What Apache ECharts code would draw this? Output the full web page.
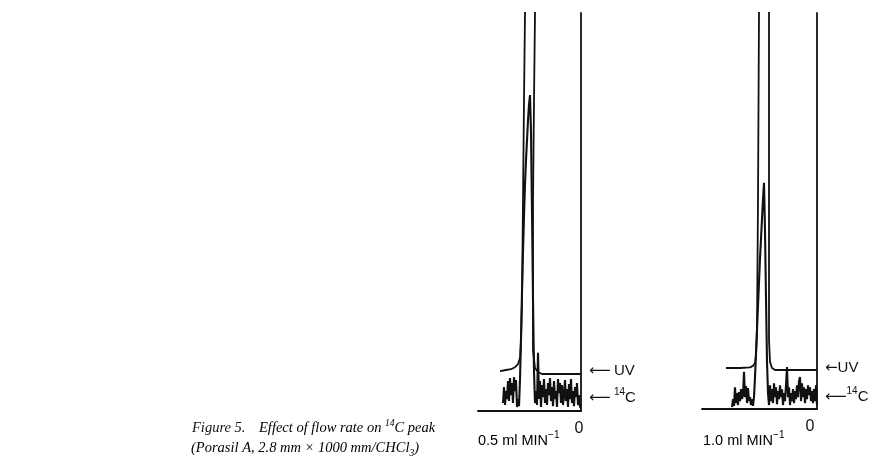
<!DOCTYPE html>
<html>
<head>
<meta charset="utf-8">
<script src="https://cdn.jsdelivr.net/npm/echarts@6/dist/echarts.min.js"></script>
<style>
  html, body { margin: 0; padding: 0; background: #fff; }
  #chart { width: 873px; height: 470px; }
</style>
</head>
<body>
<div id="chart"></div>
<script>
// Recorder traces, x = chart distance before the zero mark, y = % of full scale.
// UV detector trace at 0.5 ml/min: [distance, response]; the main peak runs off scale.
const uvSlow = [[81, 10.0], [75, 10.3], [70, 10.5], [66, 11.0], [63, 11.8], [61, 13.3], [60, 17.8],
  [59, 27.9], [58, 53], [57, 78], [56, 100], [51, 140], [46, 100], [47, 78], [48, 53], [48, 28],
  [48, 15.3], [46, 10.8], [43, 9.8], [39, 9.3], [0, 9.3]];
// 14C radioactivity trace at 0.5 ml/min, one reading per unit from distance 78 down to 0.
const c14SlowStart = 78;
const c14Slow = [2.0, 6.0, 1.5, 5.0, 3.0, 7.5, 2.5, 8.3, 4.0, 7.0, 2.0, 8.5, 5.0, 7.8, 1.0, 3.0, 1.2,
  8, 18, 30, 40, 49, 57, 63, 68, 73, 77, 79.4, 70, 50, 28, 10, 2.0,
  5, 1.5, 14.6, 3.0, 7.5, 1.0, 6.5, 3.5, 8.0, 2.0, 5.5, 1.5, 7.0, 4.0, 8.3, 2.5, 6.0, 1.2, 7.5, 3.0,
  5.0, 1.0, 8.0, 4.5, 7.0, 2.0, 6.5, 1.5, 4.0, 7.8, 2.5, 5.5, 1.0, 6.8, 3.0, 8.0, 2.0, 5.0, 1.2,
  6.0, 3.5, 7.0, 1.5, 4.0, 1.0, 0.8];

// UV detector trace at 1.0 ml/min.
const uvFast = [[91, 10.35], [77, 10.35], [67, 10.5], [64, 10.9], [62, 11.6], [61, 13.6], [60, 20],
  [59, 52.8], [58, 100], [53, 140], [48, 100], [48, 52.8], [48, 17.4], [47, 11.9], [45, 10.35],
  [42, 9.85], [0, 9.85]];
// 14C radioactivity trace at 1.0 ml/min, from distance 85 down to 0.
const c14FastStart = 85;
const c14Fast = [0.5, 2.5, 0.8, 5.5, 1.5, 4.0, 1.0, 4.3, 2.0, 5.0, 2.5, 3.5, 9.4, 3.0, 5.8, 1.5, 5.3,
  2.0, 3.0, 1.0, 2.5, 0.8,
  3, 8, 14, 20, 26, 32, 38, 43, 48, 53, 57.1, 45, 28, 12, 4,
  1.0, 6.0, 2.0, 5.0, 1.5, 6.5, 3.0, 5.5, 1.2, 4.5, 2.5, 6.0, 3.0, 5.0, 1.0, 4.0, 2.0, 6.0, 10.6,
  3.0, 5.5, 1.0, 4.0, 2.0, 5.0, 1.5, 4.5, 2.5, 6.0, 3.0, 7.0, 8.1, 2.0, 6.5, 3.0, 5.5, 1.5, 5.0,
  2.5, 6.0, 3.5, 5.5, 2.0, 4.5, 1.5, 5.0, 2.0, 6.0, 1.0];

// Panel captions and trace labels.
const panelTitles = ['0.5 ml MIN', '1.0 ml MIN'];
const zeroLabel = '0';
const uvName = 'UV';
const c14Name = 'C';

const INK = '#111';
const SANS = '"Liberation Sans", Arial, sans-serif';
const SERIF = '"Liberation Serif", "Times New Roman", serif';
const ARROW_FONT = '"DejaVu Sans", sans-serif';

function toPairs(start, values) {
  return values.map((v, i) => [start - i, v]);
}

const arrowRich = {
  a: { fontFamily: ARROW_FONT, fontSize: 15, color: INK, lineHeight: 22 },
  t: { fontFamily: SANS, fontSize: 15, color: INK, lineHeight: 22 },
  s: { fontFamily: SANS, fontSize: 10, color: INK, lineHeight: 12, verticalAlign: 'top' }
};
const titleRich = {
  t: { fontFamily: SANS, fontSize: 14.5, color: INK, lineHeight: 22 },
  s: { fontFamily: SANS, fontSize: 10, color: INK, lineHeight: 12, verticalAlign: 'top' }
};

function labelPoint(v, text) {
  return {
    symbol: 'circle',
    symbolSize: 0.1,
    silent: true,
    itemStyle: { color: 'rgba(0,0,0,0)' },
    label: {
      show: true, position: 'right', distance: 8,
      formatter: text, rich: arrowRich
    },
    data: [{ coord: [0, v] }]
  };
}

const chart = echarts.init(document.getElementById('chart'), null, { renderer: 'canvas' });

function xAxisFor(gridIndex, max, shift) {
  return {
    type: 'value', gridIndex, min: 0, max, interval: max, inverse: true,
    axisLine: { show: true, onZero: false, lineStyle: { color: INK, width: 1.8 } },
    axisTick: { show: false },
    splitLine: { show: false },
    axisLabel: {
      show: true, margin: 10, color: INK, fontFamily: SANS, fontSize: 16,
      padding: [0, shift, 0, 0],
      formatter: v => (v === 0 ? zeroLabel : '')
    }
  };
}

function yAxisFor(gridIndex) {
  return {
    type: 'value', gridIndex, min: 0, max: 100, position: 'right',
    axisLine: { show: true, onZero: false, lineStyle: { color: INK, width: 1.8 } },
    axisTick: { show: false }, axisLabel: { show: false }, splitLine: { show: false }
  };
}

function trace(idx, data, width, extra) {
  return Object.assign({
    type: 'line', xAxisIndex: idx, yAxisIndex: idx, data,
    showSymbol: false, symbol: 'none', clip: true, silent: true,
    lineStyle: { color: INK, width }
  }, extra || {});
}

const option = {
  animation: false,
  backgroundColor: '#fff',
  grid: [
    { left: 478, top: 13, width: 103, height: 398 },
    { left: 702, top: 13, width: 115, height: 396 }
  ],
  xAxis: [xAxisFor(0, 103, 4), xAxisFor(1, 115, 14)],
  yAxis: [yAxisFor(0), yAxisFor(1)],
  series: [
    trace(0, uvSlow, 1.8, { markPoint: labelPoint(10.0, '{a|⟵} {t|' + uvName + '}') }),
    trace(0, toPairs(c14SlowStart, c14Slow), 2.1, { markPoint: labelPoint(3.3, '{a|⟵} {s|14}{t|' + c14Name + '}') }),
    trace(1, uvFast, 1.8, { markPoint: labelPoint(10.3, '{a|←}{t|' + uvName + '}') }),
    trace(1, toPairs(c14FastStart, c14Fast), 2.1, { markPoint: labelPoint(3.0, '{a|⟵}{s|14}{t|' + c14Name + '}') })
  ],
  graphic: [
    {
      type: 'text', x: 478, y: 441, silent: true,
      style: { text: '{t|' + panelTitles[0] + '}{s|−1}', rich: titleRich, verticalAlign: 'middle' }
    },
    {
      type: 'text', x: 703, y: 441, silent: true,
      style: { text: '{t|' + panelTitles[1] + '}{s|−1}', rich: titleRich, verticalAlign: 'middle' }
    },
    {
      type: 'text', x: 192, y: 428, silent: true,
      style: { text: 'Figure 5.', font: 'italic 14.5px ' + SERIF, fill: INK, verticalAlign: 'middle' }
    },
    {
      type: 'text', x: 259, y: 428, silent: true,
      style: {
        text: '{i|Effect of flow rate on }{s|14}{i|C peak}', verticalAlign: 'middle',
        rich: {
          i: { fontStyle: 'italic', fontFamily: SERIF, fontSize: 14.5, color: INK, lineHeight: 20 },
          s: { fontStyle: 'italic', fontFamily: SERIF, fontSize: 9.5, color: INK, lineHeight: 12, verticalAlign: 'top' }
        }
      }
    },
    {
      type: 'text', x: 191, y: 448, silent: true,
      style: {
        text: '{i|(Porasil A, 2.8 mm × 1000 mm/CHCl}{b|3}{i|)}', verticalAlign: 'middle',
        rich: {
          i: { fontStyle: 'italic', fontFamily: SERIF, fontSize: 14.5, color: INK, lineHeight: 20 },
          b: { fontStyle: 'italic', fontFamily: SERIF, fontSize: 9.5, color: INK, lineHeight: 12, verticalAlign: 'bottom' }
        }
      }
    }
  ]
};

chart.setOption(option);
</script>
</body>
</html>
